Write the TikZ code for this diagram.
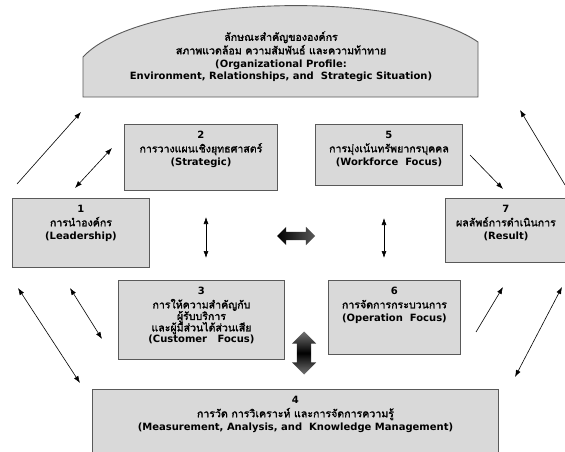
\documentclass[tikz,border=0pt]{standalone}
\usepackage{fontspec}
\setmainfont{DejaVu Sans}
\newfontfamily\thai[Script=Thai, Scale=1.06, AutoFakeBold=1.5]{Loma}
\usetikzlibrary{shapes.arrows, arrows.meta}

\tikzset{
  box/.style={draw=black!65, fill=gray!30, line width=0.9pt, anchor=north west, inner sep=0pt},
  boxtext/.style={anchor=north, align=center, font=\fontsize{10}{13.5}\selectfont\bfseries, yshift=-4pt},
  link/.style={line width=0.6pt, -{Latex[length=7pt,width=5pt]}},
  twoway/.style={line width=0.6pt, {Latex[length=7pt,width=5pt]}-{Latex[length=7pt,width=5pt]}},
  fatarrow/.style={double arrow, double arrow head extend=5pt, minimum height=#1},
}

\begin{document}
\begin{tikzpicture}[x=1pt,y=-1pt]
    \clip (0,0) rectangle (565,452);

	% organisational profile
	\fill[gray!30] (83,97) -- (83,57) .. controls (140,-5) and (400,-12) .. (478,42) -- (478,97) -- cycle;
	\draw[black!65, line width=0.9pt] (83,97) -- (83,57) .. controls (140,-5) and (400,-12) .. (478,42) -- (478,97) -- cycle;
	\node[boxtext, yshift=0pt] (top) at (281,24) {{\thai ลักษณะสำคัญขององค์กร}\\{\thai สภาพแวดล้อม ความสัมพันธ์ และความท้าทาย}\\(Organizational Profile:\\[-2pt]Environment, Relationships, and\ \ Strategic Situation)};

	% boxes
	\node[box, minimum width=137pt, minimum height=69pt] (b1) at (12,198) {};
	\node[box, minimum width=153pt, minimum height=66pt] (b2) at (124,124) {};
	\node[box, minimum width=166pt, minimum height=79pt] (b3) at (118,280) {};
	\node[box, minimum width=406pt, minimum height=90pt] (b4) at (92,389) {};
	\node[box, minimum width=147pt, minimum height=61pt] (b5) at (315,124) {};
	\node[box, minimum width=132pt, minimum height=74pt] (b6) at (328,280) {};
	\node[box, minimum width=125pt, minimum height=64pt] (b7) at (445,198) {};

	\node[boxtext] (t1) at (b1.north) {1\\{\thai การนำองค์กร}\\(Leadership)};
	\node[boxtext] (t2) at (b2.north) {2\\{\thai การวางแผนเชิงยุทธศาสตร์}\\(Strategic)};
	\node[boxtext] (t3) at (b3.north) {3\\{\thai การให้ความสำคัญกับ}\\[-2pt]{\thai ผู้รับบริการ}\\[-2pt]{\thai และผู้มีส่วนได้ส่วนเสีย}\\[-2pt](Customer\ \ \ Focus)};
	\node[boxtext] (t4) at (b4.north) {4\\{\thai การวัด การวิเคราะห์ และการจัดการความรู้}\\(Measurement, Analysis, and\ \ Knowledge Management)};
	\node[boxtext] (t5) at (b5.north) {5\\{\thai การมุ่งเน้นทรัพยากรบุคคล}\\(Workforce\ \ Focus)};
	\node[boxtext] (t6) at (b6.north) {6\\{\thai การจัดการกระบวนการ}\\(Operation\ \ Focus)};
	\node[boxtext, xshift=-2pt] (t7) at (b7.north) {7\\{\thai ผลลัพธ์การดำเนินการ}\\(Result)};

	% arrow ends
	\coordinate (p1) at (17,184);  \coordinate (q1) at (81,112);
	\coordinate (p2) at (75,188);  \coordinate (q2) at (112,148);
	\coordinate (p3) at (206,217); \coordinate (q3) at (206,258);
	\coordinate (p4) at (384,218); \coordinate (q4) at (384,258);
	\coordinate (p5) at (470,155); \coordinate (q5) at (503,189);
	\coordinate (p6) at (565,185); \coordinate (q6) at (520,110);
	\coordinate (p7) at (476,332); \coordinate (q7) at (503,287);
	\coordinate (p8) at (515,377); \coordinate (q8) at (562,287);
	\coordinate (p9) at (18,288);  \coordinate (q9) at (80,383);
	\coordinate (p10) at (70,288); \coordinate (q10) at (102,339);

	\foreach \s/\e in {p1/q1, p5/q5, p6/q6, p7/q7} \draw[link] (\s) -- (\e);
	\foreach \s/\e in {p2/q2, p3/q3, p4/q4, p8/q8, p9/q9, p10/q10} \draw[twoway] (\s) -- (\e);

	% thick arrows
	\node[fatarrow=38pt, inner sep=4pt, left color=black, right color=black!65] (fh) at (296,236) {};
	\node[fatarrow=43pt, inner sep=7pt, double arrow head extend=5pt, shape border rotate=90, top color=black!55, bottom color=black!55, middle color=black] (fv) at (304,353) {};
\end{tikzpicture}
\end{document}
